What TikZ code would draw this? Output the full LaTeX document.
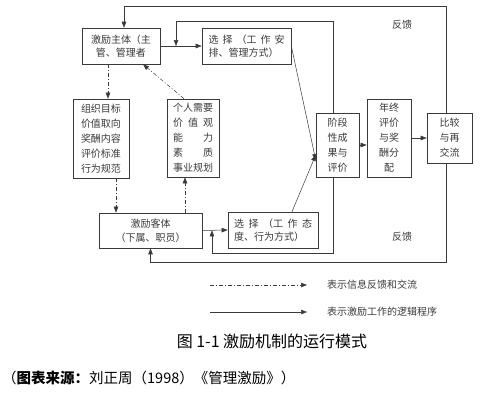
\documentclass[tikz,border=0pt]{standalone}
\usepackage{fontspec}
\usepackage{tikz}
\usetikzlibrary{arrows.meta, positioning, calc}
\newfontfamily\cjk{Noto Sans CJK SC}
\definecolor{inkgray}{HTML}{3A3A3A}

\begin{document}
\begin{tikzpicture}[
    x=1pt, y=-1pt,
    font=\cjk\fontsize{10}{13.5}\selectfont,
    box/.style={rectangle, draw=inkgray, line width=0.6pt, fill=white,
                minimum width=#1, inner sep=2pt, align=center, text=inkgray},
    flow/.style={draw=inkgray, line width=0.5pt, -{Triangle[length=6pt, width=4.5pt]}},
    info/.style={flow, dash pattern=on 4pt off 2pt on 1pt off 2pt},
    tag/.style={text=inkgray, inner sep=1pt}
]
    \useasboundingbox (0,0) rectangle (480,405);
    % boxes
    \node[box=78pt, minimum height=36pt] (zt) at (121,46) {激励主体（主\\管、管理者};
    \node[box=89pt, minimum height=36pt, align=left] (xz1) at (246.5,46)
        {\makebox[76pt][l]{选\hfill 择\hfill （工\hfill 作\hfill 安}\\排、管理方式）};
    \node[box=56pt, minimum height=79pt, font=\cjk\fontsize{10}{15}\selectfont] (zz) at (101,138.5)
        {组织目标\\价值取向\\奖酬内容\\评价标准\\行为规范};
    \node[box=52pt, minimum height=78pt, font=\cjk\fontsize{10}{15}\selectfont] (gr) at (193,138)
        {个人需要\\\makebox[40pt]{价\hfill 值\hfill 观}\\\makebox[40pt]{能\hfill 力}\\\makebox[40pt]{素\hfill 质}\\事业规划};
    \node[box=103pt, minimum height=35pt] (kt) at (150.5,230.5) {激励客体\\（下属、职员）};
    \node[box=90pt, minimum height=36pt, align=left] (xz2) at (273,230)
        {\makebox[78pt][l]{选\hfill 择\hfill （工\hfill 作\hfill 态}\\度、行为方式）};
    \node[box=43pt, minimum height=64pt, font=\cjk\fontsize{10}{15}\selectfont] (jd) at (337.5,145)
        {阶段\\性成\\果与\\评价};
    \node[box=44pt, minimum height=78pt, font=\cjk\fontsize{10}{15}\selectfont] (nz) at (389,138)
        {年终\\评价\\与奖\\酬分\\配};
    \node[box=45pt, minimum height=50pt, font=\cjk\fontsize{10}{15}\selectfont] (bj) at (449.5,138)
        {比较\\与再\\交流};

    % joints on the short links
    \coordinate (m1) at ($(zt.east)!0.38!(xz1.west)$);
    \coordinate (m2) at ($(kt.east)!0.38!(xz2.west)$);

    % logic flow
    \draw[flow] (zt.east) -- (xz1.west);
    \draw[flow] (kt.east) -- (xz2.west);
    \draw[flow] (xz1.east) -- ([yshift=-15pt]jd.west);
    \draw[flow] ([xshift=19pt]xz2.north) -- ([yshift=-10pt]jd.west);
    \draw[flow] (jd.east) -- (jd.east -| nz.west);
    \draw[flow] (nz.east) -- (nz.east -| bj.west);

    % feedback loops
    \draw[flow] ([xshift=-3.5pt]bj.north) -- ++(0,-106) -| ([xshift=3pt]zt.north);
    \draw[flow] ([xshift=-4.5pt]jd.north) -- ++(0,-91) -| (m1);
    \draw[flow] ([xshift=-4.5pt]jd.south) -- ++(0,76) -| (m2);
    \draw[flow] ([xshift=-3.5pt]bj.south) -- ++(0,99) -| (kt.south);
    \node[tag] (fk1) at (402,25) {反馈};
    \node[tag] (fk2) at (402,237) {反馈};

    % information exchange
    \draw[info] ([xshift=-13pt]zt.south) -- ([xshift=-13pt]zt.south |- zz.north);
    \draw[info] ([xshift=15pt]zz.south) -- ([xshift=15pt]zz.south |- kt.north);
    \draw[info] ([xshift=-8pt]gr.south |- kt.north) -- ([xshift=-8pt]gr.south);
    \draw[info] ([xshift=-9pt]gr.north) -- ([xshift=22pt]zt.south);

    % legend
    \coordinate (lg1a) at (210,285);
    \coordinate (lg1b) at (307,285);
    \coordinate (lg2a) at (210,312);
    \coordinate (lg2b) at (307,312);
    \draw[info] (lg1a) -- (lg1b);
    \draw[flow] (lg2a) -- (lg2b);
    \node[tag, anchor=west] (lg1) at (326,285) {表示信息反馈和交流};
    \node[tag, anchor=west] (lg2) at (326,312) {表示激励工作的逻辑程序};

    % caption and source
    \node[font=\cjk\fontsize{16}{19}\selectfont] (cap) at (272,341) {图 1-1 激励机制的运行模式};
    \node[anchor=west, font=\cjk\fontsize{14.5}{17}\selectfont, inner sep=0pt] (src) at (2,378)
        {（\textbf{图表来源：}刘正周（1998）《管理激励》）};
\end{tikzpicture}
\end{document}
